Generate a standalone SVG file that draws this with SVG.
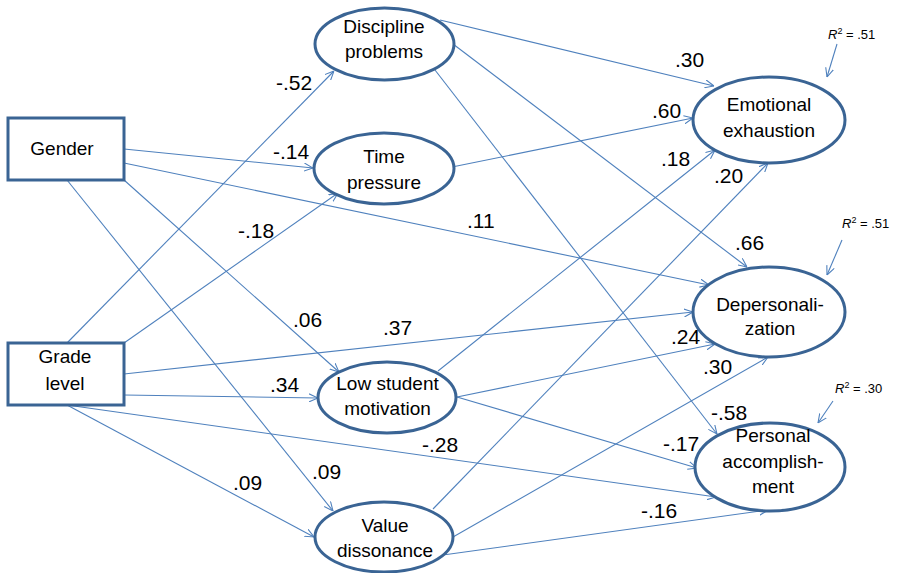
<svg xmlns="http://www.w3.org/2000/svg" width="897" height="573" viewBox="0 0 897 573">
<defs>
<marker id="arr" viewBox="0 0 10 10" refX="10" refY="5" markerWidth="9" markerHeight="9" markerUnits="userSpaceOnUse" orient="auto">
<path d="M0,0.5 L10,5 L0,9.5" fill="none" stroke="#4F81BD" stroke-width="1.2"/>
</marker>
</defs>
<style>
.n{fill:#fff;stroke:#3A6494;stroke-width:3}
.t{font-family:"Liberation Sans",Arial,sans-serif;font-size:19px;fill:#000;text-anchor:middle}
.l{font-family:"Liberation Sans",Arial,sans-serif;font-size:21px;fill:#000}
.r{font-family:"Liberation Sans",Arial,sans-serif;font-size:13px;fill:#000}
.c line{stroke:#4F81BD;stroke-width:1.1;fill:none;marker-end:url(#arr)}
</style>
<rect width="897" height="573" fill="#fff"/>
<g id="connectors" class="c">
<line x1="67" y1="343" x2="334" y2="71"/>
<line x1="124" y1="149" x2="313" y2="168"/>
<line x1="124" y1="343" x2="338" y2="193"/>
<line x1="124" y1="163" x2="709" y2="285"/>
<line x1="124" y1="180" x2="339" y2="372"/>
<line x1="67" y1="180" x2="333" y2="511"/>
<line x1="124" y1="374" x2="693" y2="312"/>
<line x1="124" y1="395" x2="318" y2="398"/>
<line x1="67" y1="405" x2="716" y2="497"/>
<line x1="67" y1="405" x2="314" y2="537"/>
<line x1="440" y1="20" x2="714" y2="86"/>
<line x1="453" y1="44" x2="747" y2="267"/>
<line x1="435" y1="70" x2="717" y2="434"/>
<line x1="452" y1="167" x2="693" y2="118"/>
<line x1="438" y1="371" x2="715" y2="150"/>
<line x1="433" y1="509" x2="768" y2="163"/>
<line x1="457" y1="397" x2="715" y2="344"/>
<line x1="453" y1="537" x2="768" y2="357"/>
<line x1="457" y1="397" x2="697" y2="468"/>
<line x1="443" y1="555" x2="768" y2="510"/>
<line x1="837" y1="44" x2="827" y2="77"/>
<line x1="842" y1="240" x2="827" y2="275"/>
<line x1="833" y1="401" x2="818" y2="423"/>
</g>
<g id="gender"><rect class="n" x="8" y="118" width="116" height="62"/><text class="t" x="62" y="155">Gender</text></g>
<g id="grade"><rect class="n" x="8" y="343" width="116" height="62"/><text class="t" x="65" y="363">Grade</text><text class="t" x="65" y="390">level</text></g>
<g id="discipline"><ellipse class="n" cx="384.5" cy="44" rx="69.5" ry="36"/><text class="t" x="384" y="33">Discipline</text><text class="t" x="384" y="58">problems</text></g>
<g id="time"><ellipse class="n" cx="384" cy="168.5" rx="70" ry="35.5"/><text class="t" x="384" y="163">Time</text><text class="t" x="384" y="189">pressure</text></g>
<g id="motivation"><ellipse class="n" cx="387" cy="397.5" rx="69" ry="35.5"/><text class="t" x="387.5" y="390">Low student</text><text class="t" x="387.5" y="415">motivation</text></g>
<g id="value"><ellipse class="n" cx="384" cy="537" rx="69" ry="35"/><text class="t" x="385" y="532">Value</text><text class="t" x="385" y="557">dissonance</text></g>
<g id="emotional"><ellipse class="n" cx="769" cy="120" rx="76" ry="43"/><text class="t" x="769" y="111">Emotional</text><text class="t" x="769" y="137">exhaustion</text></g>
<g id="depers"><ellipse class="n" cx="769" cy="312" rx="76" ry="45"/><text class="t" x="770" y="311">Depersonali-</text><text class="t" x="770" y="335">zation</text></g>
<g id="personal"><ellipse class="n" cx="770" cy="467" rx="75" ry="44"/><text class="t" x="773" y="442">Personal</text><text class="t" x="773" y="468">accomplish-</text><text class="t" x="773" y="493">ment</text></g>
<g id="labels">
<text class="l" x="276" y="90">-.52</text>
<text class="l" x="273" y="159">-.14</text>
<text class="l" x="238" y="238">-.18</text>
<text class="l" x="675" y="67">.30</text>
<text class="l" x="652" y="118">.60</text>
<text class="l" x="661" y="166">.18</text>
<text class="l" x="714" y="183">.20</text>
<text class="l" x="467" y="228">.11</text>
<text class="l" x="735" y="250">.66</text>
<text class="l" x="293" y="327">.06</text>
<text class="l" x="383" y="335">.37</text>
<text class="l" x="270" y="392">.34</text>
<text class="l" x="422" y="452">-.28</text>
<text class="l" x="233" y="490">.09</text>
<text class="l" x="312" y="479">.09</text>
<text class="l" x="671" y="344">.24</text>
<text class="l" x="703" y="374">.30</text>
<text class="l" x="711" y="420">-.58</text>
<text class="l" x="663" y="451">-.17</text>
<text class="l" x="641" y="518">-.16</text>
<text class="r" x="828" y="39"><tspan font-style="italic">R</tspan><tspan font-size="9" dy="-5">2</tspan><tspan dy="5"> = .51</tspan></text>
<text class="r" x="842" y="228"><tspan font-style="italic">R</tspan><tspan font-size="9" dy="-5">2</tspan><tspan dy="5"> = .51</tspan></text>
<text class="r" x="835" y="393"><tspan font-style="italic">R</tspan><tspan font-size="9" dy="-5">2</tspan><tspan dy="5"> = .30</tspan></text>
</g>
</svg>
